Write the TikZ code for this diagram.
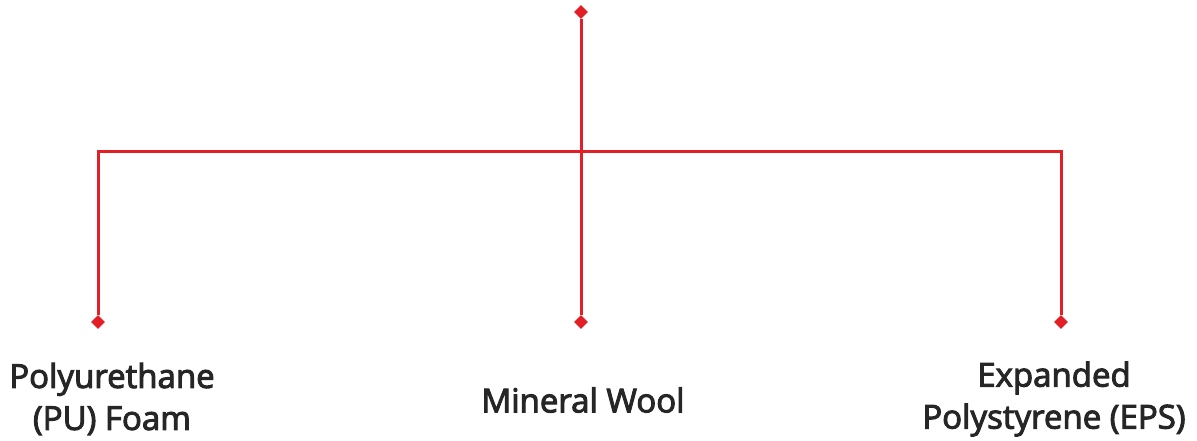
\documentclass[tikz,border=0pt]{standalone}
\usepackage{fontspec}
\setmainfont{Open Sans}
\newfontfamily\lblfont{Open Sans}[FakeBold=3]
\usetikzlibrary{shapes.geometric}
\definecolor{lred}{RGB}{226,30,38}
\begin{document}
\begin{tikzpicture}[x=1pt,y=-1pt,
  conn/.style={draw=lred,line width=3pt},
  dot/.style={diamond,fill=lred,inner sep=0pt,minimum size=14pt},
  lbl/.style={align=center,font=\fontsize{33}{42}\selectfont\lblfont,text=black!85,inner sep=0pt}]
\useasboundingbox (0,0) rectangle (1197,441);
\node[dot] (top) at (581,12) {};
\coordinate (hub) at (581,152);
\coordinate (lc) at (98,152);
\coordinate (rc) at (1061,152);
\node[dot] (l) at (98,322) {};
\node[dot] (m) at (581,322) {};
\node[dot] (r) at (1061,322) {};
\draw[conn] (top) -- (m);
\draw[conn] (l) -- (lc) -- (rc) -- (r);
\node[lbl] (tl) at (112,399) {Polyurethane\\(PU) Foam};
\node[lbl] (tm) at (583,400) {Mineral Wool};
\node[lbl] (tr) at (1054,399) {Expanded\\Polystyrene (EPS)};
\end{tikzpicture}
\end{document}
